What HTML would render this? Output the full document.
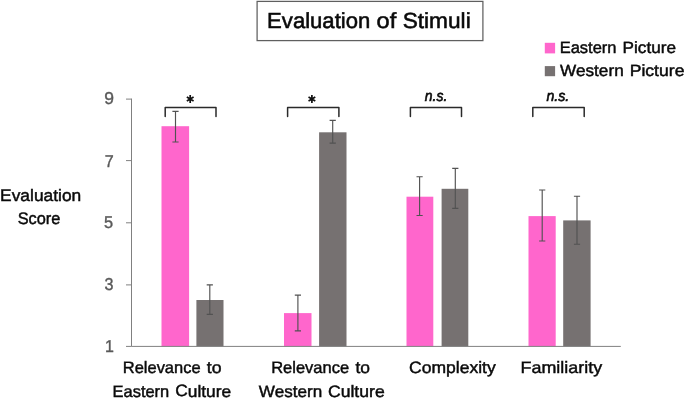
<!DOCTYPE html>
<html><head><meta charset="utf-8">
<style>
html,body{margin:0;padding:0;background:#fff;}
body{width:685px;height:399px;overflow:hidden;font-family:"Liberation Sans",sans-serif;}
svg{display:block;will-change:transform;}
text{font-family:"Liberation Sans",sans-serif;text-rendering:geometricPrecision;}
</style></head><body>
<svg width="685" height="399" viewBox="0 0 685 399">
<rect width="685" height="399" fill="#fff"/>
<!-- title -->
<rect x="257.1" y="1.4" width="225.8" height="39.2" fill="#fff" stroke="#5f5f5f" stroke-width="1.25"/>
<!-- legend -->
<rect x="544.8" y="42.8" width="10.3" height="10.6" fill="#ff66cc"/>
<rect x="544.8" y="66.1" width="10.3" height="10.1" fill="#767171"/>
<!-- y label -->
<!-- bars -->
<g fill="#ff66cc">
<rect x="161.5" y="126.2" width="27.6" height="220.2"/>
<rect x="284.0" y="313.1" width="27.5" height="33.3"/>
<rect x="406.5" y="196.7" width="26.8" height="149.7"/>
<rect x="528.5" y="216.1" width="27.2" height="130.3"/>
</g>
<g fill="#767171">
<rect x="196.4" y="300.0" width="27.1" height="46.4"/>
<rect x="319.1" y="132.3" width="27.4" height="214.1"/>
<rect x="441.6" y="188.8" width="26.7" height="157.6"/>
<rect x="563.2" y="220.4" width="27.4" height="126.0"/>
</g>
<!-- axes -->
<g stroke="#808080" stroke-width="1" fill="none">
<path d="M131.5 98.6V346.4H620.8"/>
<path d="M126 99.1H131.5M126 160.6H131.5M126 222.8H131.5M126 284.9H131.5M126 346.4H131.5"/>
</g>
<text id="t1" transform="rotate(0.02 267.1 27.6)" x="267.13" y="27.60" font-size="21.8" fill="#0a0a0a" stroke="#0a0a0a" stroke-width="0.55" textLength="103.15" lengthAdjust="spacingAndGlyphs">Evaluation</text>
<text id="t2" transform="rotate(0.02 376.6 27.6)" x="376.59" y="27.60" font-size="21.8" fill="#0a0a0a" stroke="#0a0a0a" stroke-width="0.55" textLength="19.65" lengthAdjust="spacingAndGlyphs">of</text>
<text id="t3" transform="rotate(0.02 402.6 27.6)" x="402.65" y="27.60" font-size="21.8" fill="#0a0a0a" stroke="#0a0a0a" stroke-width="0.55" textLength="68.05" lengthAdjust="spacingAndGlyphs">Stimuli</text>
<text id="l1a" transform="rotate(0.02 559.7 53.3)" x="559.66" y="53.30" font-size="16.2" fill="#0a0a0a" stroke="#0a0a0a" stroke-width="0.45" textLength="56.81" lengthAdjust="spacingAndGlyphs">Eastern</text>
<text id="l1b" transform="rotate(0.02 622.6 53.3)" x="622.60" y="53.30" font-size="16.2" fill="#0a0a0a" stroke="#0a0a0a" stroke-width="0.45" textLength="53.42" lengthAdjust="spacingAndGlyphs">Picture</text>
<text id="l2a" transform="rotate(0.02 560.1 75.8)" x="560.08" y="75.80" font-size="16.2" fill="#0a0a0a" stroke="#0a0a0a" stroke-width="0.45" textLength="63.62" lengthAdjust="spacingAndGlyphs">Western</text>
<text id="l2b" transform="rotate(0.02 629.7 75.8)" x="629.69" y="75.80" font-size="16.2" fill="#0a0a0a" stroke="#0a0a0a" stroke-width="0.45" textLength="54.74" lengthAdjust="spacingAndGlyphs">Picture</text>
<text id="yl1" transform="rotate(0.02 0.1 200.5)" x="0.11" y="200.50" font-size="16.6" fill="#0a0a0a" stroke="#0a0a0a" stroke-width="0.45" textLength="81.09" lengthAdjust="spacingAndGlyphs">Evaluation</text>
<text id="yl2" transform="rotate(0.02 17.6 223.6)" x="17.63" y="223.60" font-size="16.6" fill="#0a0a0a" stroke="#0a0a0a" stroke-width="0.45" textLength="42.74" lengthAdjust="spacingAndGlyphs">Score</text>
<text id="x1a" transform="rotate(0.02 122.8 373.0)" x="122.77" y="373.00" font-size="16.5" fill="#0a0a0a" stroke="#0a0a0a" stroke-width="0.45" textLength="77.81" lengthAdjust="spacingAndGlyphs">Relevance</text>
<text id="x1b" transform="rotate(0.02 206.9 373.0)" x="206.89" y="373.00" font-size="16.5" fill="#0a0a0a" stroke="#0a0a0a" stroke-width="0.45" textLength="14.74" lengthAdjust="spacingAndGlyphs">to</text>
<text id="x2a" transform="rotate(0.02 112.5 396.5)" x="112.54" y="396.50" font-size="16.5" fill="#0a0a0a" stroke="#0a0a0a" stroke-width="0.45" textLength="56.72" lengthAdjust="spacingAndGlyphs">Eastern</text>
<text id="x2b" transform="rotate(0.02 175.3 396.5)" x="175.29" y="396.50" font-size="16.5" fill="#0a0a0a" stroke="#0a0a0a" stroke-width="0.45" textLength="55.89" lengthAdjust="spacingAndGlyphs">Culture</text>
<text id="x3a" transform="rotate(0.02 271.2 373.0)" x="271.22" y="373.00" font-size="16.5" fill="#0a0a0a" stroke="#0a0a0a" stroke-width="0.45" textLength="77.90" lengthAdjust="spacingAndGlyphs">Relevance</text>
<text id="x3b" transform="rotate(0.02 355.4 373.0)" x="355.44" y="373.00" font-size="16.5" fill="#0a0a0a" stroke="#0a0a0a" stroke-width="0.45" textLength="14.52" lengthAdjust="spacingAndGlyphs">to</text>
<text id="x4a" transform="rotate(0.02 258.9 396.5)" x="258.89" y="396.50" font-size="16.5" fill="#0a0a0a" stroke="#0a0a0a" stroke-width="0.45" textLength="63.28" lengthAdjust="spacingAndGlyphs">Western</text>
<text id="x4b" transform="rotate(0.02 327.9 396.5)" x="327.94" y="396.50" font-size="16.5" fill="#0a0a0a" stroke="#0a0a0a" stroke-width="0.45" textLength="56.75" lengthAdjust="spacingAndGlyphs">Culture</text>
<text id="x5" transform="rotate(0.02 409.0 373.0)" x="408.99" y="373.00" font-size="16.5" fill="#0a0a0a" stroke="#0a0a0a" stroke-width="0.45" textLength="86.69" lengthAdjust="spacingAndGlyphs">Complexity</text>
<text id="x6" transform="rotate(0.02 520.6 373.0)" x="520.58" y="373.00" font-size="16.5" fill="#0a0a0a" stroke="#0a0a0a" stroke-width="0.45" textLength="81.51" lengthAdjust="spacingAndGlyphs">Familiarity</text>
<text id="ns1" transform="rotate(0.02 424.8 100.7)" x="424.80" y="100.70" font-size="15.2" fill="#0a0a0a" font-style="italic" stroke="#0a0a0a" stroke-width="0.65" textLength="22.48" lengthAdjust="spacingAndGlyphs">n.s.</text>
<text id="ns2" transform="rotate(0.02 546.5 100.7)" x="546.46" y="100.70" font-size="15.2" fill="#0a0a0a" font-style="italic" stroke="#0a0a0a" stroke-width="0.65" textLength="22.78" lengthAdjust="spacingAndGlyphs">n.s.</text>
<text id="d9" transform="rotate(0.02 104.2 104.3)" x="104.23" y="104.30" font-size="17.2" fill="#595959" stroke="#595959" stroke-width="0.4" textLength="9.73" lengthAdjust="spacingAndGlyphs">9</text>
<text id="d7" transform="rotate(0.02 104.8 166.5)" x="104.84" y="166.50" font-size="17.2" fill="#595959" stroke="#595959" stroke-width="0.4" textLength="8.98" lengthAdjust="spacingAndGlyphs">7</text>
<text id="d5" transform="rotate(0.02 104.0 228.4)" x="103.99" y="228.40" font-size="17.2" fill="#595959" stroke="#595959" stroke-width="0.4" textLength="9.07" lengthAdjust="spacingAndGlyphs">5</text>
<text id="d3" transform="rotate(0.02 104.6 289.9)" x="104.58" y="289.90" font-size="17.2" fill="#595959" stroke="#595959" stroke-width="0.4" textLength="8.97" lengthAdjust="spacingAndGlyphs">3</text>
<text id="d1" transform="rotate(0.02 104.9 352.0)" x="104.91" y="352.00" font-size="17.2" fill="#595959" stroke="#595959" stroke-width="0.4" textLength="8.89" lengthAdjust="spacingAndGlyphs">1</text>
<!-- error bars -->
<g stroke="#525252" stroke-width="1.15" fill="none">
<path d="M175.5 111.4V142.0M172.4 111.4H178.6M172.4 142.0H178.6"/>
<path d="M209.8 284.8V314.4M206.7 284.8H212.9M206.7 314.4H212.9"/>
<path d="M297.9 295.1V330.8M294.8 295.1H301.0M294.8 330.8H301.0"/>
<path d="M332.7 120.3V143.1M329.6 120.3H335.8M329.6 143.1H335.8"/>
<path d="M419.6 176.7V215.5M416.5 176.7H422.7M416.5 215.5H422.7"/>
<path d="M455.3 168.4V208.3M452.2 168.4H458.4M452.2 208.3H458.4"/>
<path d="M542.2 190.0V241.0M539.1 190.0H545.3M539.1 241.0H545.3"/>
<path d="M577.0 196.2V244.2M573.9 196.2H580.1M573.9 244.2H580.1"/>
</g>
<!-- brackets -->
<g stroke="#2a2a2a" stroke-width="1.5" fill="none" stroke-linejoin="round" stroke-linecap="round">
<path d="M165.2 116.6V107.4H216.0V116.6"/>
<path d="M287.6 116.6V107.4H338.9V116.6"/>
<path d="M410.4 116.6V107.4H461.5V116.6"/>
<path d="M532.8 116.6V107.4H584.2V116.6"/>
</g>
<!-- asterisks -->
<g stroke="#111" stroke-width="1.7" fill="none" stroke-linecap="butt">
<path d="M190.20 95.10L190.20 102.90M186.82 97.05L193.58 100.95M193.58 97.05L186.82 100.95"/>
<path d="M311.90 95.10L311.90 102.90M308.52 97.05L315.28 100.95M315.28 97.05L308.52 100.95"/>
</g>
</svg>
</body></html>
